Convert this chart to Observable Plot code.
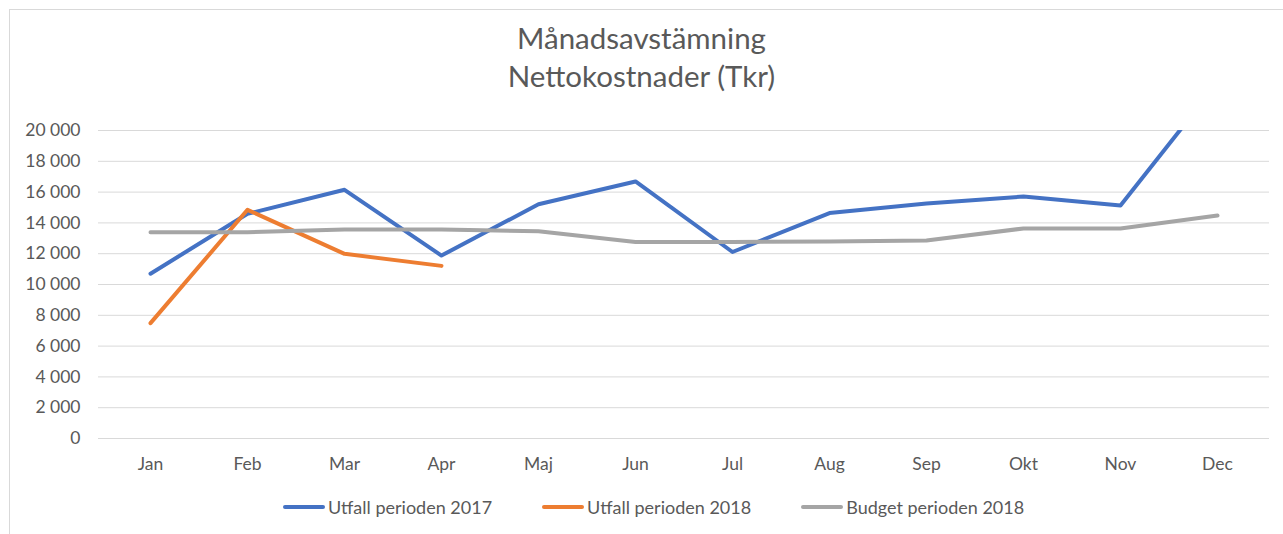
<!DOCTYPE html>
<html>
<head>
<meta charset="utf-8">
<script src="https://cdn.jsdelivr.net/npm/d3@7"></script>
<script src="https://cdn.jsdelivr.net/npm/@observablehq/plot@0.6"></script>
<style>
  html, body { margin: 0; padding: 0; background: #fff; }
  #wrap { position: relative; width: 1283px; height: 534px; overflow: hidden; font-family: Lato, "Open Sans", sans-serif; color: #595959; }
  #frame { position: absolute; left: 9px; top: 9px; width: 1290px; height: 600px; border: 1px solid #d9d9d9; box-sizing: border-box; pointer-events: none; }
  #title { height: 110px; box-sizing: border-box; padding-top: 19px; text-align: center; font-size: 29.5px; line-height: 38px; }
  #chart svg { display: block; }
  #legend { height: 54px; display: flex; align-items: center; padding-left: 283px; font-size: 18px; }
  .item { display: flex; align-items: center; margin-right: 50px; }
  .sw { width: 42px; height: 4px; border-radius: 2px; margin-right: 3px; }
</style>
</head>
<body>
<div id="wrap">
  <div id="frame"></div>
  <div id="title"></div>
  <div id="chart"></div>
  <div id="legend"></div>
</div>
<script>
const titleLines = ["Månadsavstämning", "Nettokostnader (Tkr)"];
const months = ["Jan","Feb","Mar","Apr","Maj","Jun","Jul","Aug","Sep","Okt","Nov","Dec"];
const seriesNames = ["Utfall perioden 2017", "Utfall perioden 2018", "Budget perioden 2018"];
const utfall2017 = [10700, 14590, 16150, 11880, 15210, 16690, 12110, 14640, 15260, 15710, 15130, 23100];
const utfall2018 = [7490, 14850, 11990, 11210];
const budget2018 = [13400, 13400, 13570, 13570, 13460, 12760, 12760, 12800, 12860, 13640, 13640, 14480];
const yTicks = [0, 2000, 4000, 6000, 8000, 10000, 12000, 14000, 16000, 18000, 20000];

const colors = ["#4472C4", "#ED7D31", "#A5A5A5"];
const seriesValues = [utfall2017, utfall2018, budget2018];

const rows = [];
seriesValues.forEach((vals, si) => {
  vals.forEach((v, i) => rows.push({series: seriesNames[si], month: months[i], value: v}));
});

document.getElementById("title").innerHTML = titleLines.map(t => `<div>${t}</div>`).join("");

const fmt = d => d3.format(",")(d).replace(/,/g, " ");

const chart = Plot.plot({
  width: 1283,
  height: 370,
  marginLeft: 98,
  marginRight: 14,
  marginTop: 20,
  marginBottom: 42,
  style: {fontFamily: "Lato, 'Open Sans', sans-serif", fontSize: "17.5px", color: "#595959", background: "transparent"},
  x: {type: "point", domain: months, padding: 0.5, label: null},
  y: {domain: [0, 20000], label: null},
  color: {domain: seriesNames, range: colors},
  marks: [
    Plot.ruleY(yTicks, {stroke: "#d9d9d9", strokeWidth: 1}),
    Plot.axisY({ticks: yTicks, tickFormat: fmt, tickSize: 0, tickPadding: 18, label: null, fill: "#595959"}),
    Plot.axisX({tickSize: 0, tickPadding: 19, label: null, fill: "#595959"}),
    Plot.line(rows, {x: "month", y: "value", z: "series", stroke: "series", strokeWidth: 4, strokeLinecap: "round", strokeLinejoin: "round", clip: true})
  ]
});
document.getElementById("chart").appendChild(chart);

document.getElementById("legend").innerHTML = seriesNames.map((n, i) =>
  `<div class="item"><div class="sw" style="background:${colors[i]}"></div><span>${n}</span></div>`).join("");
</script>
</body>
</html>
